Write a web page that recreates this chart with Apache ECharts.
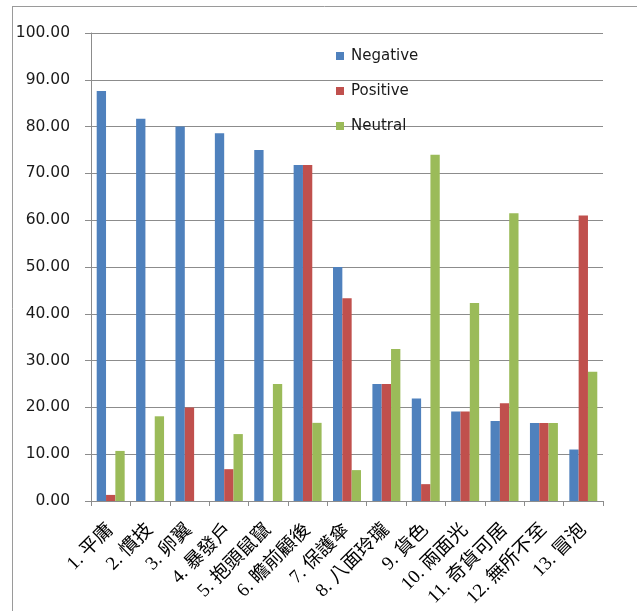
<!DOCTYPE html>
<html>
<head>
<meta charset="utf-8">
<script src="https://cdn.jsdelivr.net/npm/echarts@6/dist/echarts.min.js"></script>
<style>
  html, body { margin: 0; padding: 0; background: #fff; }
  #chart { width: 637px; height: 611px; }
</style>
</head>
<body>
<div id="chart"></div>
<script>
// Idiom categories along the x axis
const categories = [
  '1. 平庸', '2. 慣技', '3. 卵翼', '4. 暴發戶', '5. 抱頭鼠竄',
  '6. 瞻前顧後', '7. 保護傘', '8. 八面玲瓏', '9. 貨色', '10. 兩面光',
  '11. 奇貨可居', '12. 無所不至', '13. 冒泡'
];

// Percentages per sentiment
const negative = [87.6, 81.7, 80.0, 78.6, 75.0, 71.8, 50.0, 25.0, 21.9, 19.1, 17.1, 16.67, 11.0];
const positive = [1.3, 0, 20.0, 6.8, 0, 71.8, 43.3, 25.0, 3.6, 19.1, 20.9, 16.67, 61.0];
const neutral  = [10.7, 18.1, 0, 14.3, 25.0, 16.7, 6.6, 32.5, 74.0, 42.3, 61.5, 16.67, 27.6];

const seriesNames = ['Negative', 'Positive', 'Neutral'];
const colors = ['#4F81BD', '#C0504D', '#9BBB59'];

const chart = echarts.init(document.getElementById('chart'), null, { renderer: 'canvas' });

const gridColor = '#8C8C8C';

const option = {
  animation: false,
  color: colors,
  graphic: [
    {
      type: 'text',
      left: 22,
      top: -28,
      style: {
        text: 'Figure 4. The collected idiom percentages.',
        font: '26px "Liberation Serif", serif',
        fill: '#000'
      }
    },
    {
      type: 'line',
      shape: { x1: 12, y1: 6.5, x2: 637, y2: 6.5 },
      style: { stroke: '#9A9A9A', lineWidth: 1 }
    },
    {
      type: 'line',
      shape: { x1: 12.5, y1: 6.5, x2: 12.5, y2: 611 },
      style: { stroke: '#9A9A9A', lineWidth: 1 }
    }
  ],
  legend: {
    orient: 'vertical',
    left: 336,
    top: 48,
    padding: 0,
    itemWidth: 8,
    itemHeight: 8,
    itemGap: 19,
    icon: 'rect',
    itemStyle: { borderWidth: 0 },
    textStyle: {
      fontFamily: '"DejaVu Sans", sans-serif',
      fontSize: 15,
      lineHeight: 16,
      color: '#1a1a1a',
      padding: [0, 0, 0, 2]
    },
    data: seriesNames
  },
  grid: {
    left: 91,
    right: 34,
    top: 33,
    bottom: 110,
    containLabel: false
  },
  xAxis: {
    type: 'category',
    data: categories,
    axisLine: { lineStyle: { color: gridColor, width: 1 } },
    axisTick: { show: true, length: 5, lineStyle: { color: gridColor } },
    axisLabel: {
      rotate: 45,
      interval: 0,
      margin: 26,
      fontFamily: '"Liberation Serif", "Noto Sans CJK TC", serif',
      fontSize: 19,
      color: '#000'
    }
  },
  yAxis: {
    type: 'value',
    min: 0,
    max: 100,
    interval: 10,
    axisLine: { show: true, lineStyle: { color: gridColor, width: 1 } },
    axisTick: { show: true, length: 6, lineStyle: { color: gridColor } },
    splitLine: { show: true, lineStyle: { color: gridColor, width: 1 } },
    axisLabel: {
      margin: 21,
      fontFamily: '"DejaVu Sans", sans-serif',
      fontSize: 15.5,
      color: '#1a1a1a',
      formatter: v => v.toFixed(2)
    }
  },
  series: [negative, positive, neutral].map((data, i) => ({
    name: seriesNames[i],
    type: 'bar',
    data: data,
    barGap: '0%',
    barCategoryGap: '29%',
    itemStyle: { color: colors[i] }
  }))
};

chart.setOption(option);
</script>
</body>
</html>
